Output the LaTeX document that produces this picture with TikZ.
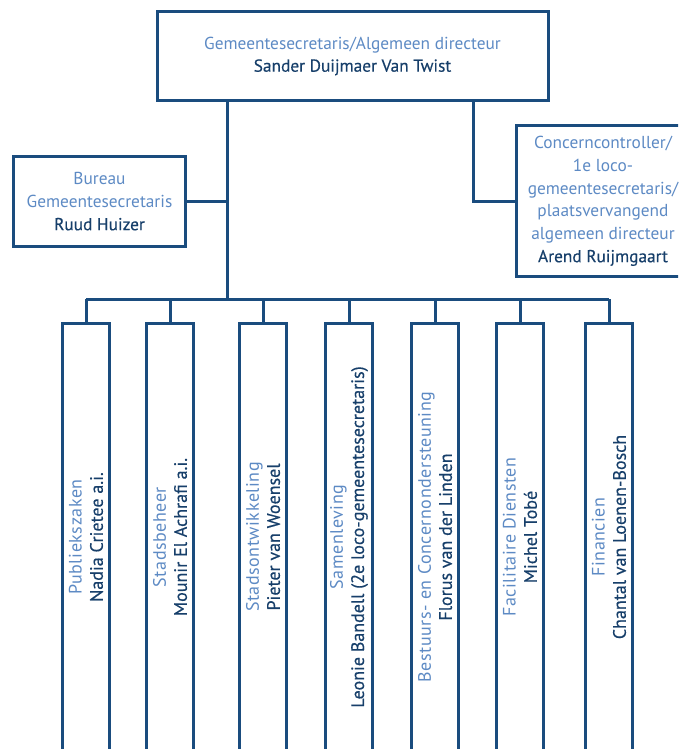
\documentclass[tikz,border=0pt]{standalone}
\usepackage{fontspec}
\setmainfont{PT Sans}
\newfontfamily\functiefont{PT Sans}
\newfontfamily\kolomfont[LetterSpace=3]{PT Sans}
\newfontfamily\persoonfont[FakeBold=0.4]{PT Sans}
\definecolor{lijn}{HTML}{1A4C7E}
\definecolor{functie}{HTML}{5D8AC4}
\definecolor{naam}{HTML}{173F6A}
\newcommand{\functie}[1]{{\functiefont\textcolor{functie}{#1}}}
\newcommand{\afdeling}[1]{{\kolomfont\textcolor{functie}{#1}}}
\newcommand{\persoon}[1]{{\persoonfont\textcolor{naam}{#1}}}
\begin{document}
\begin{tikzpicture}[x=0.75pt, y=-0.75pt, line width=2.25pt, lijn,
  box/.style={draw=lijn, line width=2.25pt, align=center, inner sep=0pt,
    font=\fontsize{13}{17}\selectfont},
  kolom/.style={box, rotate=90, minimum width=321pt, minimum height=35.25pt,
    font=\fontsize{13.5}{15.8}\selectfont}]
\useasboundingbox (0,0) rectangle (678,749);
\clip (0,0) rectangle (678,749);
% directie
\node[box, minimum width=293.25pt, minimum height=66pt] (top) at (352.5,56)
  {\functie{Gemeentesecretaris/Algemeen directeur}\\ \persoon{Sander Duijmaer Van Twist}};
\node[box, minimum width=129pt, minimum height=67pt] (bureau) at (99.5,201.5)
  {\functie{Bureau}\\ \functie{Gemeentesecretaris}\\ \persoon{Ruud Huizer}};
\node[box, minimum width=130.5pt, minimum height=113.25pt] (ctrl) at (603,201.2)
  {\functie{Concerncontroller/}\\ \functie{1e loco-}\\ \functie{gemeentesecretaris/}\\
   \functie{plaatsvervangend}\\ \functie{algemeen directeur}\\ \persoon{Arend Ruijmgaart}};
% afdelingen
\node[kolom] (c1) at (86,537) {\afdeling{Publiekszaken}\\ \persoon{Nadia Crietee a.i.}};
\node[kolom] (c2) at (170,537) {\afdeling{Stadsbeheer}\\ \persoon{Mounir El Achrafi a.i.}};
\node[kolom] (c3) at (263,537) {\afdeling{Stadsontwikkeling}\\ \persoon{Pieter van Woensel}};
\node[kolom] (c4) at (349,537) {\afdeling{Samenleving}\\ \persoon{Leonie Bandell (2e loco-gemeentesecretaris)}};
\node[kolom] (c5) at (435,537) {\afdeling{Bestuurs- en Concernondersteuning}\\ \persoon{Florus van der Linden}};
\node[kolom] (c6) at (520,537) {\afdeling{Facilitaire Diensten}\\ \persoon{Michel Tobé}};
\node[kolom] (c7) at (609,537) {\afdeling{Financien}\\ \persoon{Chantal van Loenen-Bosch}};
% lijnen
\coordinate (bus) at (227,299);
\coordinate (rechts) at (473,0);
\draw (top.south -| bus) -- (bus);
\draw (bureau.east) -- (bureau.east -| bus);
\draw (top.south -| rechts) |- (ctrl.west);
\draw (c1.east |- bus) -- (c7.east |- bus);
\draw (c1.east |- bus) -- (c1.east);
\draw (c2.east |- bus) -- (c2.east);
\draw (c3.east |- bus) -- (c3.east);
\draw (c4.east |- bus) -- (c4.east);
\draw (c5.east |- bus) -- (c5.east);
\draw (c6.east |- bus) -- (c6.east);
\draw (c7.east |- bus) -- (c7.east);
\end{tikzpicture}
\end{document}
